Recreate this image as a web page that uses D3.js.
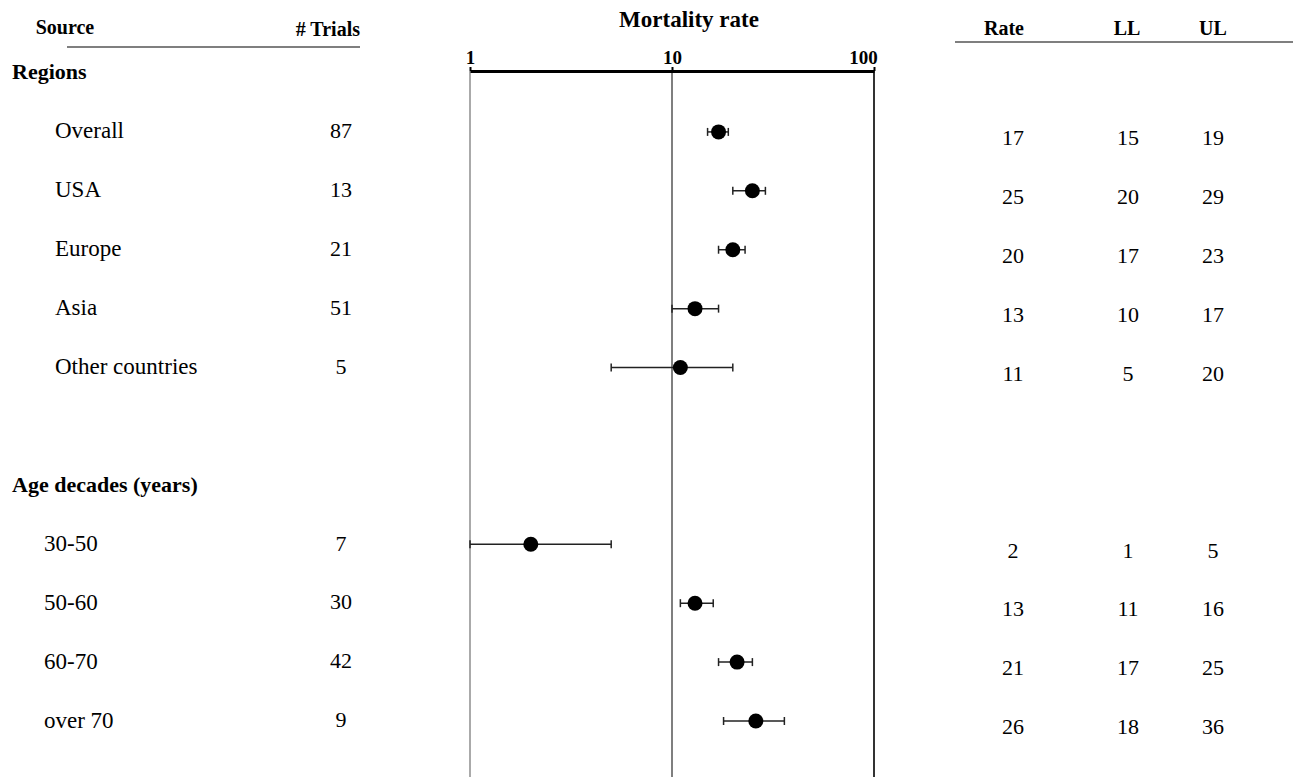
<!DOCTYPE html>
<html>
<head>
<meta charset="utf-8">
<script src="https://cdn.jsdelivr.net/npm/d3@7"></script>
<style>
  body { margin: 0; background: #fff; }
</style>
</head>
<body>
<div id="wrapper"></div>
<script>
// rows, top to bottom (groups, items and one blank spacer)
const rowLabels = ["Regions", "Overall", "USA", "Europe", "Asia", "Other countries", "",
  "Age decades (years)", "30-50", "50-60", "60-70", "over 70"];
const rowKinds = ["group", "region", "region", "region", "region", "region", "blank",
  "group", "age", "age", "age", "age"];
const trials = [null, 87, 13, 21, 51, 5, null, null, 7, 30, 42, 9];
const rates = [null, 17, 25, 20, 13, 11, null, null, 2, 13, 21, 26];
const lower = [null, 15, 20, 17, 10, 5, null, null, 1, 11, 17, 18];
const upper = [null, 19, 29, 23, 17, 20, null, null, 5, 16, 25, 36];
const axisTicks = [1, 10, 100];

const serif = "'Liberation Serif', 'Times New Roman', Times, serif";

const rows = rowLabels.map((label, i) => ({
  label, kind: rowKinds[i], trials: trials[i],
  rate: rates[i], ll: lower[i], ul: upper[i], idx: i,
}));

const width = 1293;
const height = 777;

const svg = d3.select("#wrapper")
  .append("svg")
  .attr("width", width)
  .attr("height", height)
  .attr("font-family", serif)
  .style("font-family", serif);

const xScale = d3.scaleLog()
  .domain([1, 100])
  .range([470, 874]);

const yScale = d3.scalePoint()
  .domain(rows.map((d) => d.idx))
  .range([73, 721]);

// headers
const header = svg.append("g").style("font-weight", "bold").style("font-size", "20px");
header.append("text").attr("x", 65).attr("y", 34).attr("text-anchor", "middle").text("Source");
header.append("text").attr("x", 360).attr("y", 36).attr("text-anchor", "end").text("# Trials");
header.append("text").attr("x", 1004).attr("y", 35).attr("text-anchor", "middle").text("Rate");
header.append("text").attr("x", 1127).attr("y", 35).attr("text-anchor", "middle").text("LL");
header.append("text").attr("x", 1213).attr("y", 35).attr("text-anchor", "middle").text("UL");

svg.append("line")
  .attr("x1", 67).attr("x2", 360).attr("y1", 47).attr("y2", 47)
  .attr("stroke", "#555").attr("stroke-width", 1.5);
svg.append("line")
  .attr("x1", 955).attr("x2", 1293).attr("y1", 42).attr("y2", 42)
  .attr("stroke", "#555").attr("stroke-width", 1.5);

svg.append("text")
  .attr("x", 689).attr("y", 27)
  .attr("text-anchor", "middle")
  .style("font-weight", "bold").style("font-size", "23px")
  .text("Mortality rate");

// grid lines at 1, 10, 100
const gridColors = ["#aaa", "#555", "#333"];
svg.selectAll(".grid")
  .data(axisTicks)
  .join("line")
  .attr("class", "grid")
  .attr("x1", (d) => xScale(d)).attr("x2", (d) => xScale(d))
  .attr("y1", 71).attr("y2", height)
  .attr("stroke", (d, i) => gridColors[i])
  .attr("stroke-width", (d, i) => (i === 1 ? 1.5 : 2));

// axis
const xAxis = svg.append("g")
  .attr("transform", "translate(0,71)")
  .call(d3.axisTop(xScale).tickValues(axisTicks).tickFormat(d3.format("d")).tickSize(4).tickSizeOuter(0).tickPadding(3));
xAxis.attr("font-family", serif);
xAxis.select(".domain").attr("stroke", "#000").attr("stroke-width", 3);
xAxis.selectAll(".tick line").attr("stroke", "#000").attr("stroke-width", 2);
xAxis.selectAll(".tick text")
  .style("font-family", serif)
  .style("font-weight", "bold").style("font-size", "19px").attr("fill", "#000")
  .attr("dx", (d, i) => (i === axisTicks.length - 1 ? -11 : 0));

// left labels
const labelX = { group: 12, region: 55, age: 44, blank: 0 };
svg.selectAll(".label")
  .data(rows.filter((d) => d.kind !== "blank"))
  .join("text")
  .attr("class", "label")
  .attr("x", (d) => labelX[d.kind])
  .attr("y", (d) => yScale(d.idx) - 1)
  .attr("dy", "0.33em")
  .style("font-size", (d) => (d.kind === "group" ? "22px" : "23px"))
  .style("font-weight", (d) => (d.kind === "group" ? "bold" : "normal"))
  .text((d) => d.label);

const items = rows.filter((d) => d.rate !== null);

svg.selectAll(".trials")
  .data(items)
  .join("text")
  .attr("class", "trials")
  .attr("x", 341)
  .attr("y", (d) => yScale(d.idx) - 1)
  .attr("dy", "0.33em")
  .attr("text-anchor", "middle")
  .style("font-size", "22px")
  .text((d) => d.trials);

// right table
const cols = [["rate", 1013], ["ll", 1128], ["ul", 1213]];
cols.forEach(([key, x]) => {
  svg.selectAll(".col-" + key)
    .data(items)
    .join("text")
    .attr("class", "col-" + key)
    .attr("x", x)
    .attr("y", (d) => yScale(d.idx) + 6)
    .attr("dy", "0.33em")
    .attr("text-anchor", "middle")
    .style("font-size", "22px")
    .text((d) => d[key]);
});

// error bars and points
const marks = svg.selectAll(".mark")
  .data(items)
  .join("g")
  .attr("class", "mark")
  .attr("transform", (d) => `translate(0,${yScale(d.idx)})`);

marks.append("line")
  .attr("x1", (d) => xScale(d.ll)).attr("x2", (d) => xScale(d.ul))
  .attr("stroke", "#222").attr("stroke-width", 1.5);
marks.append("line")
  .attr("x1", (d) => xScale(d.ll)).attr("x2", (d) => xScale(d.ll))
  .attr("y1", -4).attr("y2", 4)
  .attr("stroke", "#222").attr("stroke-width", 1.5);
marks.append("line")
  .attr("x1", (d) => xScale(d.ul)).attr("x2", (d) => xScale(d.ul))
  .attr("y1", -4).attr("y2", 4)
  .attr("stroke", "#222").attr("stroke-width", 1.5);
marks.append("circle")
  .attr("cx", (d) => xScale(d.rate))
  .attr("r", 7.5)
  .attr("fill", "#000");
</script>
</body>
</html>
